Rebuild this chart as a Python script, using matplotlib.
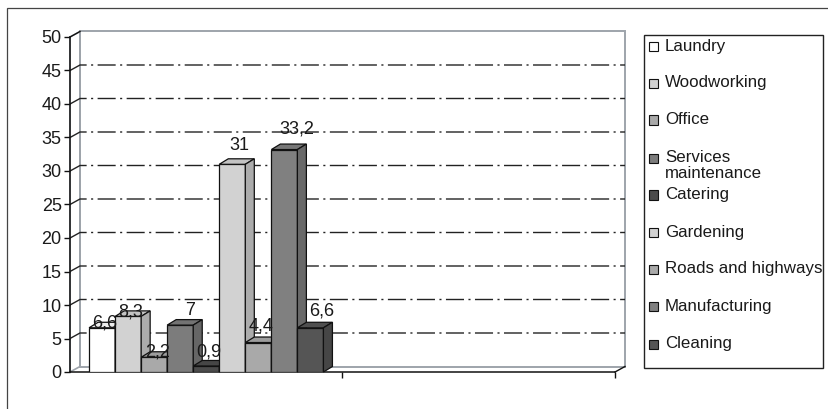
"""
Share of workers by sector - pseudo-3D column chart in the old spreadsheet style.
"""

import matplotlib

matplotlib.use("Agg")
import matplotlib.pyplot as plt
from matplotlib.patches import Polygon, Rectangle

plt.rcParams["font.family"] = ["Liberation Sans", "DejaVu Sans"]

# Data
SECTORS = [
    "Laundry",
    "Woodworking",
    "Office",
    "Services\nmaintenance",
    "Catering",
    "Gardening",
    "Roads and highways",
    "Manufacturing",
    "Cleaning",
]
VALUES = [6.6, 8.3, 2.2, 7.0, 0.9, 31.0, 4.4, 33.2, 6.6]
VALUE_LABELS = ["6,6", "8,3", "2,2", "7", "0,9", "31", "4,4", "33,2", "6,6"]
Y_TICKS = list(range(0, 55, 5))

# Greys for the front faces, one per sector
FACE_COLORS = [
    "#ffffff", "#d2d2d2", "#a9a9a9", "#7c7c7c", "#4b4b4b",
    "#d2d2d2", "#a9a9a9", "#808080", "#555555",
]

# Label nudges (pixels): horizontal shift and lift above the bar top
LABEL_NUDGE = [(3, 0), (3, 0), (3, 1), (10, 10), (3, 9),
               (7, 14), (3, 12), (12, 16), (11, 12)]

W, H, DPI = 829, 409, 100
fig = plt.figure(figsize=(W / DPI, H / DPI), dpi=DPI)

# outer frame of the chart object
fig.patches.append(Rectangle((7 / W, -0.01), 1.02, 1 - 8 / H + 0.01,
                             transform=fig.transFigure, fill=False,
                             edgecolor="#444444", lw=0.9))

# front plane of the plot: x 70..615 px, y 372..37 px
ax = fig.add_axes([70 / W, (H - 372) / H, 545 / W, 335 / H])
ax.set_xlim(0, 2)
ax.set_ylim(0, 50)
ax.patch.set_alpha(0)

PX_X = 2 / 545   # data units per pixel, horizontally
PX_Y = 50 / 335  # data units per pixel, vertically

# depth of back wall and bars
WDX, WDY = 10 * PX_X, 5.5 * PX_Y
BDX, BDY = 9 * PX_X, 5.5 * PX_Y

WALL = "#9ea4ab"
# back wall and side wall
ax.add_patch(Rectangle((WDX, WDY), 2, 50, fill=False, edgecolor=WALL,
                       lw=1.4, clip_on=False, zorder=1))
ax.add_patch(Polygon([(0, 0), (WDX, WDY), (WDX, 50 + WDY), (0, 50)],
                     closed=True, fill=False, edgecolor=WALL, lw=1.2,
                     clip_on=False, zorder=1))

# dash-dot gridlines across side wall and back wall
for v in Y_TICKS[1:-1]:
    ax.plot([0, WDX, 2 + WDX], [v, v + WDY, v + WDY], color="#222222",
            lw=1.0, dashes=(13, 3.2, 1.5, 3.2), clip_on=False, zorder=1.5)

# bars: first category only, 9 adjacent columns
group = 0.86
bw = group / len(VALUES)
x_start = 0.5 - group / 2


def shade(hex_color, k):
    r, g, b = matplotlib.colors.to_rgb(hex_color)
    return (r * k, g * k, b * k)


for i, (v, c) in enumerate(zip(VALUES, FACE_COLORS)):
    x0 = x_start + i * bw
    z = 3 + i * 0.1
    ax.bar(x0, v, width=bw, align="edge", color=c, edgecolor="#111111",
           lw=0.9, zorder=z)
    top = [(x0, v), (x0 + bw, v), (x0 + bw + BDX, v + BDY), (x0 + BDX, v + BDY)]
    side = [(x0 + bw, 0), (x0 + bw + BDX, BDY), (x0 + bw + BDX, v + BDY),
            (x0 + bw, v)]
    ax.add_patch(Polygon(top, closed=True, facecolor=shade(c, 0.93),
                         edgecolor="#111111", lw=0.9, zorder=z + 0.01,
                         clip_on=False))
    ax.add_patch(Polygon(side, closed=True, facecolor=shade(c, 0.82),
                         edgecolor="#111111", lw=0.9, zorder=z + 0.01,
                         clip_on=False))

# value labels
for i, (v, lab) in enumerate(zip(VALUES, VALUE_LABELS)):
    x0 = x_start + i * bw
    nx, ny = LABEL_NUDGE[i]
    ax.annotate(lab, xy=(x0 + bw / 2, v), xytext=(nx * 0.72, ny * 0.72),
                textcoords="offset points", ha="center", va="baseline",
                fontsize=13, color="#1a1a1a", zorder=10,
                annotation_clip=False)

# axes lines and ticks
for s in ["top", "right"]:
    ax.spines[s].set_visible(False)
for s in ["left", "bottom"]:
    ax.spines[s].set_color("#111111")
    ax.spines[s].set_linewidth(1.1)
ax.plot([2, 2 + WDX], [0, WDY], color="#111111", lw=1.0, clip_on=False)
ax.plot([0, WDX], [50, 50 + WDY], color="#111111", lw=1.0, clip_on=False)

ax.set_yticks(Y_TICKS)
ax.set_yticklabels([str(t) for t in Y_TICKS])
ax.tick_params(axis="y", direction="out", length=4, width=1.0,
               color="#111111", labelsize=13, labelcolor="#1a1a1a", pad=2)
ax.set_xticks([1, 2])
ax.set_xticklabels([])
ax.tick_params(axis="x", direction="out", length=4, width=1.0,
               color="#111111")

# legend box on the right
fig.patches.append(Rectangle((644 / W, 1 - 368 / H), 179 / W, 333 / H,
                             transform=fig.transFigure, fill=False,
                             edgecolor="#222222", lw=1.0))
row_y = [46.7, 83.3, 120, 158.3, 195, 232.7, 269.3, 306.7, 344.3]
for name, c, y in zip(SECTORS, FACE_COLORS, row_y):
    fig.patches.append(Rectangle((649.5 / W, 1 - (y + 4.5) / H), 9 / W, 9 / H,
                                 transform=fig.transFigure, facecolor=c,
                                 edgecolor="#111111", lw=0.8))
    fig.text(665 / W, 1 - (y - 8) / H, name, ha="left", va="top",
             fontsize=12.2, color="#1a1a1a", linespacing=1.05)

fig.savefig("out.png", dpi=DPI)
